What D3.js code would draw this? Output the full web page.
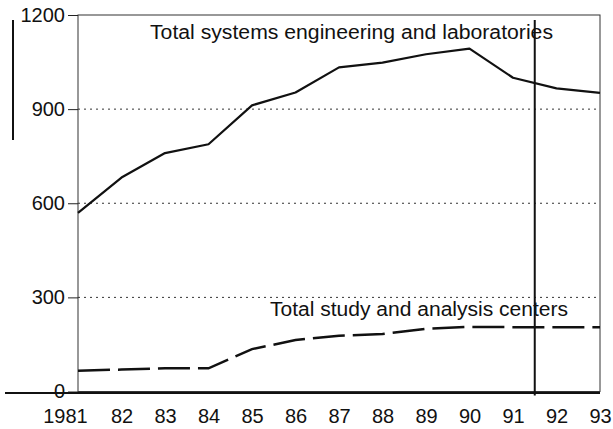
<!DOCTYPE html>
<html>
<head>
<meta charset="utf-8">
<script src="https://cdnjs.cloudflare.com/ajax/libs/d3/7.8.5/d3.min.js"></script>
<style>
  body { margin: 0; background: #fff; }
  svg text { font-family: "Liberation Sans", Arial, Helvetica, sans-serif; fill: #111; }
</style>
</head>
<body>
<div class="chart"></div>
<script>
var svgWidth = 613;
var svgHeight = 429;

// data
var years = [1981, 1982, 1983, 1984, 1985, 1986, 1987, 1988, 1989, 1990, 1991, 1992, 1993];
var yearLabels = ["1981", "82", "83", "84", "85", "86", "87", "88", "89", "90", "91", "92", "93"];
var systemsLabs = [569, 682, 760, 788, 912, 953, 1033, 1048, 1075, 1093, 1000, 966, 952];
var studyCenters = [66, 70, 74, 74, 135, 164, 178, 183, 200, 206, 205, 205, 205];
var yTicks = [0, 300, 600, 900, 1200];
var gridTicks = [300, 600, 900];
var markerYear = 1991.5;

var svg = d3.select(".chart")
  .append("svg")
  .attr("width", svgWidth)
  .attr("height", svgHeight);

var x = d3.scaleLinear().domain([1981, 1993]).range([78, 600]);
var y = d3.scaleLinear().domain([0, 1200]).range([391.5, 15]);

// dotted gridlines
svg.selectAll(".grid")
  .data(gridTicks)
  .enter()
  .append("line")
  .attr("x1", x(1981))
  .attr("x2", x(1993))
  .attr("y1", function(d) { return y(d); })
  .attr("y2", function(d) { return y(d); })
  .attr("stroke", "#333")
  .attr("stroke-width", 1)
  .attr("stroke-dasharray", "2,4");

// frame
svg.append("rect")
  .attr("x", x(1981))
  .attr("y", y(1200))
  .attr("width", x(1993) - x(1981))
  .attr("height", y(0) - y(1200))
  .attr("fill", "none")
  .attr("stroke", "#333")
  .attr("stroke-width", 1);

// left axis with ticks
var leftAxis = d3.axisLeft(y).tickValues(yTicks).tickSize(10).tickPadding(3)
  .tickFormat(d3.format("d"));
var gy = svg.append("g")
  .attr("transform", "translate(" + x(1981) + ",0)")
  .call(leftAxis);
gy.select(".domain").remove();
gy.selectAll("line").attr("stroke", "#222");
gy.selectAll("text").style("font-size", "20px").attr("fill", "#111");

// bottom labels
var bottomAxis = d3.axisBottom(x).tickValues(years).tickSize(0).tickPadding(17)
  .tickFormat(function(d, i) { return yearLabels[i]; });
var gx = svg.append("g")
  .attr("transform", "translate(0," + y(0) + ")")
  .call(bottomAxis);
gx.select(".domain").remove();
gx.selectAll("text")
  .style("font-size", "20px")
  .attr("fill", "#111")
  .attr("dx", function(d) { return d === 1981 ? -13 : 0; });

// heavy baseline
svg.append("line")
  .attr("x1", 5)
  .attr("x2", x(1993))
  .attr("y1", y(0) + 1.5)
  .attr("y2", y(0) + 1.5)
  .attr("stroke", "#111")
  .attr("stroke-width", 2);

// stray vertical bar on the left
svg.append("line")
  .attr("x1", 13).attr("x2", 13)
  .attr("y1", 20).attr("y2", 140)
  .attr("stroke", "#111")
  .attr("stroke-width", 2);

var line = d3.line()
  .x(function(d) { return x(d[0]); })
  .y(function(d) { return y(d[1]); });

svg.append("path")
  .datum(d3.zip(years, systemsLabs))
  .attr("d", line)
  .attr("fill", "none")
  .attr("stroke", "#111")
  .attr("stroke-width", 2.2)
  .attr("stroke-linejoin", "round");

svg.append("path")
  .datum(d3.zip(years, studyCenters))
  .attr("d", line)
  .attr("fill", "none")
  .attr("stroke", "#111")
  .attr("stroke-width", 2.5)
  .attr("stroke-dasharray", "32,8");

// vertical marker between 91 and 92
svg.append("line")
  .attr("x1", x(markerYear)).attr("x2", x(markerYear))
  .attr("y1", 20).attr("y2", y(0) + 4)
  .attr("stroke", "#111")
  .attr("stroke-width", 2);

// series labels
svg.append("text")
  .attr("x", 150)
  .attr("y", 39)
  .style("font-size", "20px")
  .attr("textLength", 403)
  .attr("lengthAdjust", "spacingAndGlyphs")
  .text("Total systems engineering and laboratories");

svg.append("text")
  .attr("x", 270)
  .attr("y", 316)
  .style("font-size", "20px")
  .attr("textLength", 298)
  .attr("lengthAdjust", "spacingAndGlyphs")
  .text("Total study and analysis centers");
</script>
</body>
</html>
